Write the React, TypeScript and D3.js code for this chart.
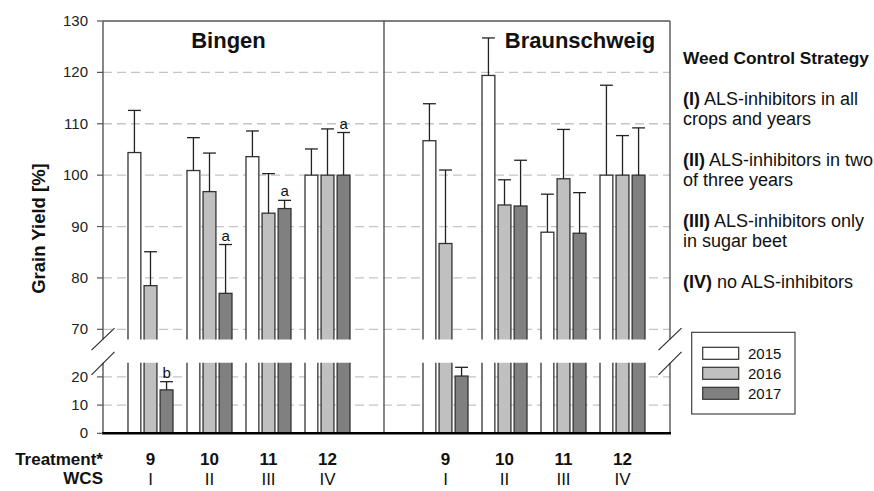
import React from "react";
import { scaleLinear, scalePoint, scaleBand } from "d3";

// treatments and weed control strategies
const TREATMENTS = ["9", "10", "11", "12"];
const WCS = ["I", "II", "III", "IV"];
const YEARS = ["2015", "2016", "2017"];
const FILLS = ["#ffffff", "#c0c0c0", "#808080"];

// relative grain yield [%] per year, treatments 9..12
const BINGEN_2015 = [104.4, 100.9, 103.6, 100];
const BINGEN_2016 = [78.5, 96.8, 92.6, 100];
const BINGEN_2017 = [15.4, 77.0, 93.5, 100];
const BINGEN_SD_2015 = [8.2, 6.4, 5.0, 5.1];
const BINGEN_SD_2016 = [6.6, 7.5, 7.7, 9.0];
const BINGEN_SD_2017 = [2.9, 9.5, 1.6, 8.3];
const BINGEN_LETTERS_2017 = ["b", "a", "a", "a"];

const BRAUN_2015 = [106.7, 119.4, 88.9, 100];
const BRAUN_2016 = [86.7, 94.2, 99.3, 100];
const BRAUN_2017 = [20.3, 94.0, 88.7, 100];
const BRAUN_SD_2015 = [7.2, 7.3, 7.4, 17.5];
const BRAUN_SD_2016 = [14.3, 4.9, 9.6, 7.7];
const BRAUN_SD_2017 = [3.1, 8.9, 7.9, 9.2];

const UPPER_TICKS = [70, 80, 90, 100, 110, 120, 130];
const LOWER_TICKS = [0, 10, 20];

const STRATEGY = [
  { bold: "(I)", lines: [" ALS-inhibitors in all", "crops and years"] },
  { bold: "(II)", lines: [" ALS-inhibitors in two", "of three years"] },
  { bold: "(III)", lines: [" ALS-inhibitors only", "in sugar beet"] },
  { bold: "(IV)", lines: [" no ALS-inhibitors"] },
];

const FONT = "'Liberation Sans', Arial, Helvetica, sans-serif";

type Bar = { key: string; slot: string; year: number; value: number; sd: number; letter?: string };

function buildBars(prefix: string, means: number[][], sds: number[][], letters?: string[]): Bar[] {
  const out: Bar[] = [];
  TREATMENTS.forEach((t, i) => {
    YEARS.forEach((_, y) => {
      out.push({
        key: `${prefix}-${t}-${y}`,
        slot: `${prefix}${t}`,
        year: y,
        value: means[y][i],
        sd: sds[y][i],
        letter: y === 2 && letters ? letters[i] : undefined,
      });
    });
  });
  return out;
}

export default function App() {
  const width = 874;
  const height = 491;
  const left = 103;
  const right = 670;
  const top = 21;
  const breakLow = 68;
  const breakHigh = 25;

  const slots = [...TREATMENTS.map((t) => `B${t}`), "gap", ...TREATMENTS.map((t) => `R${t}`)];
  const x = scalePoint<string>().domain(slots).range([left, right]).padding(0.805);
  const inner = scaleBand<number>().domain([0, 1, 2]).range([-22.5, 22.5]).paddingInner(0.2);
  const bw = inner.bandwidth();

  const yUp = scaleLinear().domain([breakLow, 130]).range([339.6, top]);
  const yLow = scaleLinear().domain([0, breakHigh]).range([433.3, 362.8]);
  const yAny = (v: number) => (v >= breakLow ? yUp(v) : yLow(v));

  const bars = [
    ...buildBars("B", [BINGEN_2015, BINGEN_2016, BINGEN_2017], [BINGEN_SD_2015, BINGEN_SD_2016, BINGEN_SD_2017], BINGEN_LETTERS_2017),
    ...buildBars("R", [BRAUN_2015, BRAUN_2016, BRAUN_2017], [BRAUN_SD_2015, BRAUN_SD_2016, BRAUN_SD_2017]),
  ];

  const upBottom = yUp(breakLow);
  const lowTop = yLow(breakHigh);
  const divider = (x("gap") as number) - 2.5;
  const axisGray = "#555";

  return (
    <svg
      width={width}
      height={height}
      style={{ position: "absolute", left: 0, top: 0, fontFamily: FONT }}
    >
      <defs>
        <clipPath id="clipUp">
          <rect x={left} y={top} width={right - left} height={upBottom - top} />
        </clipPath>
        <clipPath id="clipLow">
          <rect x={left} y={lowTop} width={right - left} height={yLow(0) - lowTop} />
        </clipPath>
      </defs>
      <rect width={width} height={height} fill="#fff" />

      {/* grid lines */}
      {UPPER_TICKS.filter((t) => t < 130).map((t) => (
        <line key={`gu${t}`} x1={left} x2={right} y1={yUp(t)} y2={yUp(t)} stroke="#c4c4c4" strokeWidth={1.3} strokeDasharray="9,5" />
      ))}
      {LOWER_TICKS.filter((t) => t > 0).map((t) => (
        <line key={`gl${t}`} x1={left} x2={right} y1={yLow(t)} y2={yLow(t)} stroke="#c4c4c4" strokeWidth={1.3} strokeDasharray="9,5" />
      ))}

      {/* bars, upper segment */}
      <g clipPath="url(#clipUp)">
        {bars
          .filter((b) => b.value > breakLow)
          .map((b) => (
            <rect
              key={`u${b.key}`}
              x={(x(b.slot) as number) + (inner(b.year) as number)}
              y={yUp(b.value)}
              width={bw}
              height={upBottom + 6 - yUp(b.value)}
              fill={FILLS[b.year]}
              stroke="#333"
              strokeWidth={1.3}
            />
          ))}
      </g>
      {/* bars, lower segment */}
      <g clipPath="url(#clipLow)">
        {bars.map((b) => {
          const yt = b.value > breakHigh ? lowTop - 6 : yLow(b.value);
          return (
            <rect
              key={`l${b.key}`}
              x={(x(b.slot) as number) + (inner(b.year) as number)}
              y={yt}
              width={bw}
              height={yLow(0) - yt}
              fill={FILLS[b.year]}
              stroke="#333"
              strokeWidth={1.3}
            />
          );
        })}
      </g>

      {/* error bars */}
      {bars.map((b) => {
        const cx = (x(b.slot) as number) + (inner(b.year) as number) + bw / 2;
        const y0 = yAny(b.value);
        const y1 = yAny(b.value + b.sd);
        return (
          <g key={`e${b.key}`} stroke="#222" strokeWidth={1.3}>
            <line x1={cx} x2={cx} y1={y0} y2={y1} />
            <line x1={cx - bw / 2} x2={cx + bw / 2} y1={y1} y2={y1} />
            {b.letter && (
              <text x={cx} y={y1 - 4} textAnchor="middle" fontSize={15} fill="#111" stroke="none">
                {b.letter}
              </text>
            )}
          </g>
        );
      })}

      {/* frame */}
      <line x1={left} x2={right} y1={top} y2={top} stroke={axisGray} strokeWidth={1.4} />
      <line x1={left} x2={left} y1={top} y2={upBottom} stroke={axisGray} strokeWidth={1.4} />
      <line x1={left} x2={left} y1={lowTop} y2={yLow(0)} stroke={axisGray} strokeWidth={1.4} />
      <line x1={right} x2={right} y1={top} y2={upBottom} stroke={axisGray} strokeWidth={1.4} />
      <line x1={right} x2={right} y1={lowTop} y2={yLow(0)} stroke={axisGray} strokeWidth={1.4} />
      <line x1={divider} x2={divider} y1={top} y2={yLow(0)} stroke={axisGray} strokeWidth={1.4} />
      <line x1={left - 1} x2={right + 1} y1={yLow(0)} y2={yLow(0)} stroke="#000" strokeWidth={2.4} />

      {/* axis break marks */}
      {[left, right].map((bx) => (
        <g key={`br${bx}`} stroke="#222" strokeWidth={1.1}>
          <line x1={bx - 11.5} y1={upBottom + 10.5} x2={bx + 11.5} y2={upBottom - 11.5} />
          <line x1={bx - 11.5} y1={lowTop + 12} x2={bx + 11.5} y2={lowTop - 11} />
        </g>
      ))}

      {/* y ticks */}
      {UPPER_TICKS.map((t) => (
        <g key={`tu${t}`}>
          <line x1={left - 6} x2={left} y1={yUp(t)} y2={yUp(t)} stroke={axisGray} strokeWidth={1.2} />
          <text x={88} y={yUp(t) + 5} textAnchor="end" fontSize={15} fill="#222">
            {t}
          </text>
        </g>
      ))}
      {LOWER_TICKS.map((t) => (
        <g key={`tl${t}`}>
          <line x1={left - 6} x2={left} y1={yLow(t)} y2={yLow(t)} stroke={axisGray} strokeWidth={1.2} />
          <text x={88} y={yLow(t) + 5} textAnchor="end" fontSize={15} fill="#222">
            {t}
          </text>
        </g>
      ))}

      <text
        transform="translate(45,228.5) rotate(-90)"
        textAnchor="middle"
        fontSize={18.5}
        fontWeight="bold"
        fill="#111"
      >
        Grain Yield [%]
      </text>

      {/* site titles */}
      <text x={228.5} y={47.5} textAnchor="middle" fontSize={22} fontWeight="bold" fill="#111">
        Bingen
      </text>
      <text x={580} y={47.5} textAnchor="middle" fontSize={22} fontWeight="bold" fill="#111">
        Braunschweig
      </text>

      {/* x labels */}
      <text x={103} y={465} textAnchor="end" fontSize={17} fontWeight="bold" fill="#111">
        Treatment*
      </text>
      <text x={103} y={484} textAnchor="end" fontSize={17} fontWeight="bold" fill="#111">
        WCS
      </text>
      {["B", "R"].map((p) =>
        TREATMENTS.map((t, i) => (
          <g key={`xl${p}${t}`}>
            <text x={x(`${p}${t}`)} y={465} textAnchor="middle" fontSize={17} fontWeight="bold" fill="#111">
              {t}
            </text>
            <text x={x(`${p}${t}`)} y={484.5} textAnchor="middle" fontSize={17} fill="#111">
              {WCS[i]}
            </text>
          </g>
        ))
      )}

      {/* strategy text */}
      <text x={683} y={64} fontSize={17.3} fontWeight="bold" fill="#111">
        Weed Control Strategy
      </text>
      {STRATEGY.map((s, i) => (
        <text key={s.bold} x={683} y={104.5 + i * 61} fontSize={18} fill="#111">
          <tspan fontWeight="bold">{s.bold}</tspan>
          <tspan>{s.lines[0]}</tspan>
          {s.lines[1] && (
            <tspan x={683} dy={20}>
              {s.lines[1]}
            </tspan>
          )}
        </text>
      ))}

      {/* legend */}
      <rect x={691.7} y={332.3} width={103.3} height={81.7} fill="#fff" stroke="#333" strokeWidth={1.1} />
      {YEARS.map((yr, i) => (
        <g key={yr}>
          <rect x={702.7} y={347.3 + i * 20} width={36} height={12} fill={FILLS[i]} stroke="#333" strokeWidth={1.2} />
          <text x={748} y={358.5 + i * 20} fontSize={15} fill="#111">
            {yr}
          </text>
        </g>
      ))}
    </svg>
  );
}
